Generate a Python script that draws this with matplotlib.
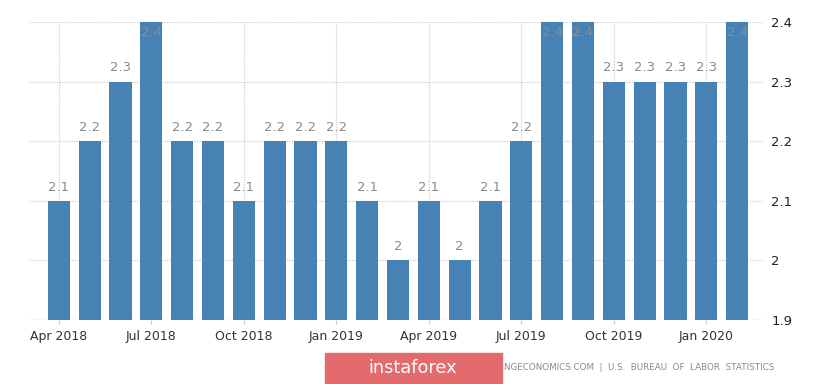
import matplotlib.pyplot as plt
from matplotlib.patches import Rectangle

months = ["Apr 2018", "May 2018", "Jun 2018", "Jul 2018", "Aug 2018", "Sep 2018",
          "Oct 2018", "Nov 2018", "Dec 2018", "Jan 2019", "Feb 2019", "Mar 2019",
          "Apr 2019", "May 2019", "Jun 2019", "Jul 2019", "Aug 2019", "Sep 2019",
          "Oct 2019", "Nov 2019", "Dec 2019", "Jan 2020", "Feb 2020"]
values = [2.1, 2.2, 2.3, 2.4, 2.2, 2.2, 2.1, 2.2, 2.2, 2.2, 2.1, 2.0,
          2.1, 2.0, 2.1, 2.2, 2.4, 2.4, 2.3, 2.3, 2.3, 2.3, 2.4]
value_labels = ["2.1", "2.2", "2.3", "2.4", "2.2", "2.2", "2.1", "2.2", "2.2", "2.2", "2.1", "2",
                "2.1", "2", "2.1", "2.2", "2.4", "2.4", "2.3", "2.3", "2.3", "2.3", "2.4"]
y_ticks = [1.9, 2.0, 2.1, 2.2, 2.3, 2.4]
y_tick_labels = ["1.9", "2", "2.1", "2.2", "2.3", "2.4"]
x_tick_months = ["Apr 2018", "Jul 2018", "Oct 2018", "Jan 2019",
                 "Apr 2019", "Jul 2019", "Oct 2019", "Jan 2020"]
source = "NGECONOMICS.COM  |  U.S.  BUREAU  OF  LABOR  STATISTICS"
logo_text = "instaforex"

bar_color = "#4682b4"
ymin, ymax = 1.9, 2.4

fig = plt.figure(figsize=(8.25, 3.84), dpi=100)
ax = fig.add_axes([29 / 825, 64 / 384, 734 / 825, 298 / 384])

x = list(range(len(values)))
heights = [v - ymin for v in values]
ax.bar(x, heights, bottom=ymin, width=0.72, color=bar_color, zorder=3)

for xi, v, lab in zip(x, values, value_labels):
    if v >= ymax - 1e-9:
        ax.text(xi, v - 0.006, lab, ha="center", va="top", fontsize=9.5,
                color="#8c8c8c", zorder=4)
    else:
        ax.text(xi, v + 0.012, lab, ha="center", va="bottom", fontsize=9.5,
                color="#8a8a8a", zorder=4)

ax.set_xlim(-0.97, len(values) - 1 + 0.84)
ax.set_ylim(ymin, ymax)

ax.set_xticks([months.index(m) for m in x_tick_months])
ax.set_xticklabels(x_tick_months)
ax.set_yticks(y_ticks)
ax.set_yticklabels(y_tick_labels)
ax.yaxis.tick_right()
ax.tick_params(axis="x", length=3, color="#cccccc", labelsize=9, labelcolor="#333333", pad=4)
ax.tick_params(axis="y", length=0, labelsize=9.5, labelcolor="#222222", pad=6)

ax.grid(True, linestyle=(0, (1, 1)), color="#cfcfcf", linewidth=0.9, zorder=0)
for s in ax.spines.values():
    s.set_visible(False)
ax.axhline(ymin, color="#cfcfcf", linestyle=(0, (1, 1)), linewidth=0.9, zorder=1)

# watermark box and source line
fig.patches.append(Rectangle((325 / 825, 1 / 384), 177 / 825, 30 / 384,
                             transform=fig.transFigure, color="#e46b6d", zorder=5))
fig.text(413 / 825, 16 / 384, logo_text, ha="center", va="center", fontsize=12.8,
         color="white", zorder=6)
fig.text(504 / 825, 17 / 384, source, ha="left", va="center", fontsize=6.3,
         color="#8a8a8a")

fig.savefig("out.png", dpi=100)
